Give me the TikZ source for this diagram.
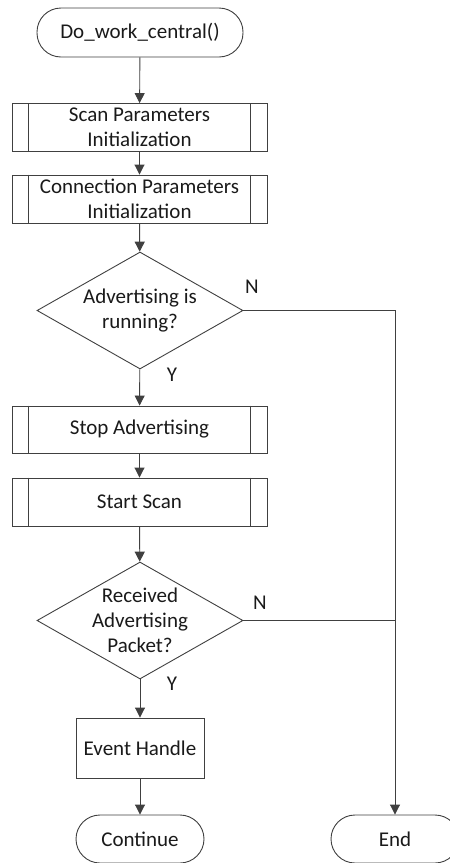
\documentclass[tikz,border=0pt]{standalone}
\usepackage{fontspec}
\setmainfont{Carlito}
\usetikzlibrary{shapes.geometric,arrows.meta}
\definecolor{ln}{HTML}{404040}
\definecolor{tx}{HTML}{1A1A1A}
\tikzset{
  base/.style={draw=ln, line width=0.9pt, fill=white, text=tx, font=\fontsize{21}{25}\selectfont, align=center, inner sep=0pt},
  term/.style={base, rectangle, rounded corners=24pt},
  subr/.style={base, rectangle, minimum width=255pt, minimum height=48pt},
  proc/.style={base, rectangle, minimum width=128pt, minimum height=60pt},
  dec/.style={base, diamond, minimum width=206pt, minimum height=117pt},
  txt/.style={text=tx, font=\fontsize{21}{25}\selectfont, align=center, inner sep=0pt},
  lab/.style={text=tx, font=\fontsize{21}{25}\selectfont, inner sep=0pt},
  conn/.style={draw=ln, line width=0.9pt, -{Triangle[length=10pt,width=10pt]}},
  plain/.style={draw=ln, line width=0.9pt},
  bar/.style={draw=ln, line width=0.9pt}
}
\begin{document}
\begin{tikzpicture}[x=1pt,y=-1pt]
\useasboundingbox (0,0) rectangle (450,863);
\node[term, minimum width=206pt, minimum height=49pt] (start) at (140,32.5) {Do\_work\_central()};
\node[subr] (b1) at (139.5,127.5) {Scan Parameters\\Initialization};
\node[subr] (b2) at (139.5,199) {Connection Parameters\\Initialization};
\node[dec] (d1) at (140,310.5) {};
\node[txt] (t1) at (d1) {Advertising is\\running?};
\node[subr, minimum height=47pt] (b3) at (139.5,429.5) {Stop Advertising};
\node[subr] (b4) at (139.5,502) {Start Scan};
\node[dec] (d2) at (140,620.5) {};
\node[txt] (t2) at (d2) {Received\\Advertising\\Packet?};
\node[proc] (ev) at (140,748) {Event Handle};
\node[term, minimum width=128pt, minimum height=48pt] (cont) at (140,839) {Continue};
\node[term, minimum width=128pt, minimum height=48pt] (end) at (395,839) {End};
\foreach \b in {b1,b2,b3,b4}{
  \draw[bar] ([xshift=17pt]\b.north west) -- ([xshift=17pt]\b.south west);
  \draw[bar] ([xshift=-17pt]\b.north east) -- ([xshift=-17pt]\b.south east);
}
\node[lab] (n1) at (252,287) {N};
\node[lab] (y1) at (172,375) {Y};
\node[lab] (n2) at (260,603) {N};
\node[lab] (y2) at (172,684) {Y};
\draw[conn] (start) -- (b1);
\draw[conn] (b1) -- (b2);
\draw[conn] (b2) -- (d1);
\draw[conn] (d1) -- (b3);
\draw[conn] (b3) -- (b4);
\draw[conn] (b4) -- (d2);
\draw[conn] (d2) -- (ev);
\draw[conn] (ev) -- (cont);
\draw[conn] (d1.east) -| (end.north);
\draw[plain] (d2.east) -- (d2.east -| end.north);
\end{tikzpicture}
\end{document}
